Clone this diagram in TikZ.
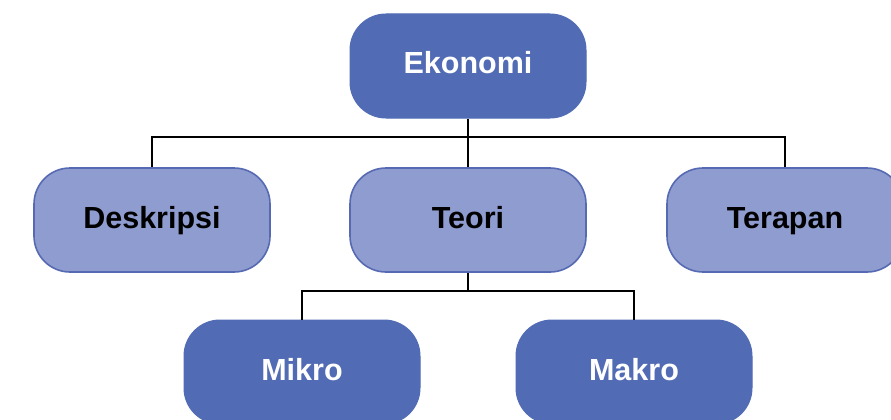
\documentclass[tikz,border=0pt]{standalone}
\usepackage{fontspec}
\setmainfont{Liberation Sans}
\usepackage{tikz}
\usetikzlibrary{positioning, calc}
\definecolor{ekodark}{HTML}{516CB4}
\definecolor{ekolight}{HTML}{8E9CD0}
\definecolor{ekoline}{HTML}{5669B3}

\tikzset{
  topic/.style={rounded corners=36pt, minimum width=236pt, minimum height=104pt,
    inner sep=0pt, text height=21pt, text depth=5pt,
    font=\fontsize{30.5}{33}\selectfont\bfseries},
  darkbox/.style={topic, fill=ekodark, draw=ekodark, line width=1pt, text=white},
  lightbox/.style={topic, fill=ekolight, draw=ekoline, line width=1.6pt, text=black},
  link/.style={draw=black, line width=2pt}
}

\begin{document}
\begin{tikzpicture}[x=1pt, y=-1pt]
  \useasboundingbox (0,0) rectangle (891,420);
  \clip (0,0) rectangle (891,420);

  % Top level
  \node[darkbox] (eko) at (468,66) {Ekonomi};

  % Second level
  \node[lightbox] (des) at (152,220) {Deskripsi};
  \node[lightbox] (teo) at (468,220) {Teori};
  \node[lightbox] (ter) at (785,220) {Terapan};

  % Third level
  \node[darkbox] (mik) at (302,372) {Mikro};
  \node[darkbox] (mak) at (634,372) {Makro};

  % Connections
  \coordinate (busA) at (468,137);
  \draw[link] (eko.south) -- (busA);
  \draw[link] (busA) -| (des.north);
  \draw[link] (busA) -| (ter.north);
  \draw[link] (busA) -- (teo.north);

  \coordinate (busB) at (468,291);
  \draw[link] (teo.south) -- (busB);
  \draw[link] (busB) -| (mik.north);
  \draw[link] (busB) -| (mak.north);
\end{tikzpicture}
\end{document}
